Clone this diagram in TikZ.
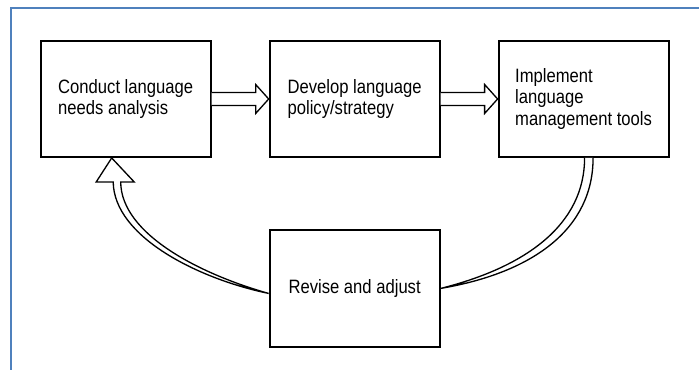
\documentclass[tikz,border=0pt]{standalone}
\usepackage{fontspec}
\setmainfont[FakeStretch=0.86]{Liberation Sans}
\usetikzlibrary{positioning}
\definecolor{frameblue}{RGB}{79,129,189}
\tikzset{
	stepbox/.style={draw, line width=1.1pt, rectangle, minimum width=3.4cm, minimum height=2.32cm,
		align=left, font=\fontsize{11}{12.3}\selectfont},
	fatarrow/.style={draw, line width=0.75pt, fill=white, line join=miter}
}
\begin{document}
\begin{tikzpicture}
	\useasboundingbox (0,0) rectangle (13.98,7.4);
	\clip (0,0) rectangle (13.98,7.4);
	\draw[frameblue, line width=1.2pt] (0.22,-1) -- (0.22,7.24) -- (15,7.24);

	% the four steps
	\node[stepbox] (conduct) at (2.514,5.42) {Conduct language\\ needs analysis};
	\node[stepbox, right=1.14cm of conduct] (develop) {Develop language\\ policy/strategy};
	\node[stepbox, right=1.14cm of develop] (tools) {Implement\\ language\\ management tools};
	\node[stepbox, below=1.42cm of develop, minimum height=2.34cm] (revise) {Revise and adjust};

	% straight arrows
	\draw[fatarrow] ([yshift=1.3mm]conduct.east) -- ([xshift=-2.6mm,yshift=1.3mm]develop.west)
		-- ([xshift=-2.6mm,yshift=2.9mm]develop.west) -- (develop.west)
		-- ([xshift=-2.6mm,yshift=-2.9mm]develop.west) -- ([xshift=-2.6mm,yshift=-1.3mm]develop.west)
		-- ([yshift=-1.3mm]conduct.east);
	\draw[fatarrow] ([yshift=1.3mm]develop.east) -- ([xshift=-2.6mm,yshift=1.3mm]tools.west)
		-- ([xshift=-2.6mm,yshift=2.9mm]tools.west) -- (tools.west)
		-- ([xshift=-2.6mm,yshift=-2.9mm]tools.west) -- ([xshift=-2.6mm,yshift=-1.3mm]tools.west)
		-- ([yshift=-1.3mm]develop.east);

	% curved arrows
	\draw[fatarrow] ([xshift=0.2mm]tools.south) .. controls +(0,-1.3) and +(1.76,0.44) .. (revise.east)
		.. controls +(1.88,0.32) and +(0,-1.4) .. ([xshift=1.9mm]tools.south);
	\draw[fatarrow] ([yshift=-1mm]revise.west) .. controls +(-1.4,0.29) and +(0.014,-1.1) .. ([xshift=-2.5mm,yshift=-4.8mm]conduct.south)
		-- ([xshift=-5.9mm,yshift=-4.8mm]conduct.south) -- ([xshift=-2.8mm]conduct.south)
		-- ([xshift=1.7mm,yshift=-4.8mm]conduct.south) -- ([xshift=-1mm,yshift=-4.8mm]conduct.south)
		.. controls +(0.006,-1.06) and +(-1.32,0.37) .. ([yshift=-1mm]revise.west);
\end{tikzpicture}
\end{document}
